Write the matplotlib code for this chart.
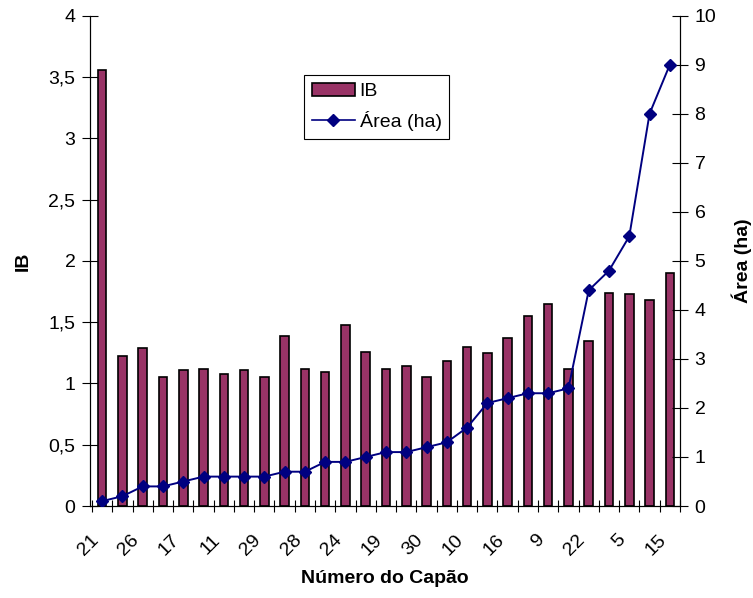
import numpy as np
import matplotlib.pyplot as plt
from matplotlib.patches import Patch
from matplotlib.lines import Line2D

plt.rcParams['font.family'] = ['Liberation Sans', 'DejaVu Sans']

# Capões ordered by area; only every other name is printed on the axis
capao_labels = ['21', '26', '17', '11', '29', '28', '24', '19',
                '30', '10', '16', '9', '22', '5', '15']
ib = [3.56, 1.22, 1.29, 1.05, 1.11, 1.12, 1.08, 1.11, 1.05, 1.39,
      1.12, 1.09, 1.48, 1.26, 1.12, 1.14, 1.05, 1.18, 1.30, 1.25,
      1.37, 1.55, 1.65, 1.12, 1.35, 1.74, 1.73, 1.68, 1.90]
area_ha = [0.1, 0.2, 0.4, 0.4, 0.5, 0.6, 0.6, 0.6, 0.6, 0.7,
           0.7, 0.9, 0.9, 1.0, 1.1, 1.1, 1.2, 1.3, 1.6, 2.1,
           2.2, 2.3, 2.3, 2.4, 4.4, 4.8, 5.5, 8.0, 9.0]

bar_color = '#993366'
line_color = '#000080'

x = np.arange(len(ib))

fig = plt.figure(figsize=(7.53, 5.98), dpi=100)
ax = fig.add_axes([0.1195, 0.1538, 0.7835, 0.82])
ax2 = ax.twinx()

ax.bar(x, ib, width=0.42, color=bar_color, edgecolor='black', linewidth=1.2, zorder=2)
ax2.plot(x, area_ha, color=line_color, marker='D', markersize=6, linewidth=1.4, zorder=3)

ax.set_xlim(-0.5, len(ib) - 0.5)
ax.set_ylim(0, 4)
ax2.set_ylim(0, 10)

# left axis
yt = np.arange(0, 4.01, 0.5)
ax.set_yticks(yt)
ax.set_yticklabels([('%g' % v).replace('.', ',') for v in yt], fontsize=14)
ax2.set_yticks(np.arange(0, 11, 1))
ax2.set_yticklabels([str(v) for v in range(11)], fontsize=14)

# category boundaries as ticks, names on every second bar
# (rotated names end a little left of their bar)
ax.set_xticks(np.arange(-0.5, len(ib), 1.0))
ax.set_xticklabels([])
ax.set_xticks(x[::2] - 0.6, minor=True)
ax.set_xticklabels(capao_labels, minor=True, rotation=45, ha='right',
                   rotation_mode='anchor', fontsize=14)
ax.tick_params(axis='x', which='minor', length=0, pad=18)
ax.tick_params(axis='x', which='major', direction='inout', length=9, width=0.8)
ax.tick_params(axis='y', direction='inout', length=11, width=0.8, pad=5)
ax2.tick_params(axis='y', direction='inout', length=11, width=0.8, pad=5)

for a in (ax, ax2):
    a.spines['top'].set_visible(False)
    for s in ('left', 'right', 'bottom'):
        a.spines[s].set_linewidth(0.8)

ax.set_ylabel('IB', fontsize=14, fontweight='bold', labelpad=12)
ax2.set_ylabel('Área (ha)', fontsize=14, fontweight='bold', labelpad=11)
ax.set_xlabel('Número do Capão', fontsize=14, fontweight='bold', labelpad=8)

handles = [Patch(facecolor=bar_color, edgecolor='black', linewidth=1.2),
           Line2D([], [], color=line_color, marker='D', markersize=6, linewidth=1.2)]
leg = ax.legend(handles, ['IB', 'Área (ha)'], loc='upper left',
                bbox_to_anchor=(0.363, 0.879), fontsize=14, frameon=True,
                fancybox=False, edgecolor='black', framealpha=1,
                handlelength=2.2, handleheight=0.7, borderpad=0.4,
                labelspacing=0.55, handletextpad=0.25, borderaxespad=0)
leg.get_frame().set_linewidth(0.8)
leg.set_zorder(5)

fig.savefig('out.png', dpi=100)
